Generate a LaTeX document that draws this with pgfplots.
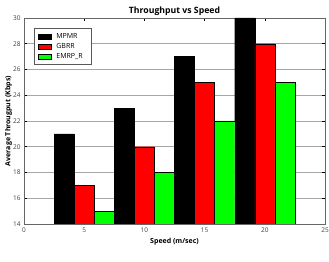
\documentclass[border=0pt]{standalone}
\usepackage{pgfplots}
\pgfplotsset{compat=1.18}
\usepackage{fontspec}
\setmainfont{Open Sans}
\begin{document}
\begin{tikzpicture}
\begin{axis}[
  name=ax,
  scale only axis,
  width=301pt, height=206pt,
  xmin=0, xmax=25, ymin=14, ymax=30,
  xtick={0,5,10,15,20,25},
  ytick={14,16,...,30},
  ybar=0pt, bar width=1.6667,
  tick align=inside,
  tick pos=both,
  major tick length=3pt,
  ymajorgrids,
  grid style={gray!70, line width=0.6pt},
  axis line style={gray!80!black, line width=0.5pt},
  tick style={black, line width=0.6pt},
  ticklabel style={font=\fontsize{6.5}{7}\selectfont, text=black!75},
  /pgf/number format/assume math mode=true,
  title={\bfseries Throughput vs Speed},
  title style={font=\fontsize{8.7}{10}\selectfont, yshift=-7pt},
  xlabel={\bfseries Speed (m/sec)},
  ylabel={\bfseries Average Througput (Kbps)},
  xlabel style={font=\fontsize{7}{8}\selectfont, yshift=1pt},
  ylabel style={font=\fontsize{7}{8}\selectfont, yshift=-6pt},
  legend style={at={(0.033,0.951)}, anchor=north west, font=\fontsize{7}{8}\selectfont,
    draw=gray!70!black, line width=0.5pt, inner xsep=4pt, inner ysep=3pt,
    nodes={inner xsep=5pt, inner ysep=1.5pt, minimum height=10pt}},
  legend image code/.code={\draw[#1, draw=black, line width=0.4pt] (0.05cm,-0.09cm) rectangle (0.5cm,0.09cm);},
  legend cell align=left,
]
\addplot[fill=black, draw=black, line width=0.4pt] coordinates {(5,21) (10,23) (15,27) (20,30)};
\addplot[fill=red, draw=black, line width=0.4pt] coordinates {(5,17) (10,20) (15,25) (20,28)};
\addplot[fill={rgb,255:red,0;green,255;blue,0}, draw=black, line width=0.4pt] coordinates {(5,15) (10,18) (15,22) (20,25)};
\legend{MPMR\hspace{4pt}, GBRR, EMRP\_R}
\end{axis}
\pgfresetboundingbox
\path ([xshift=-24pt,yshift=-38pt]ax.south west) rectangle ([xshift=4pt,yshift=18pt]ax.north east);
\end{tikzpicture}
\end{document}
